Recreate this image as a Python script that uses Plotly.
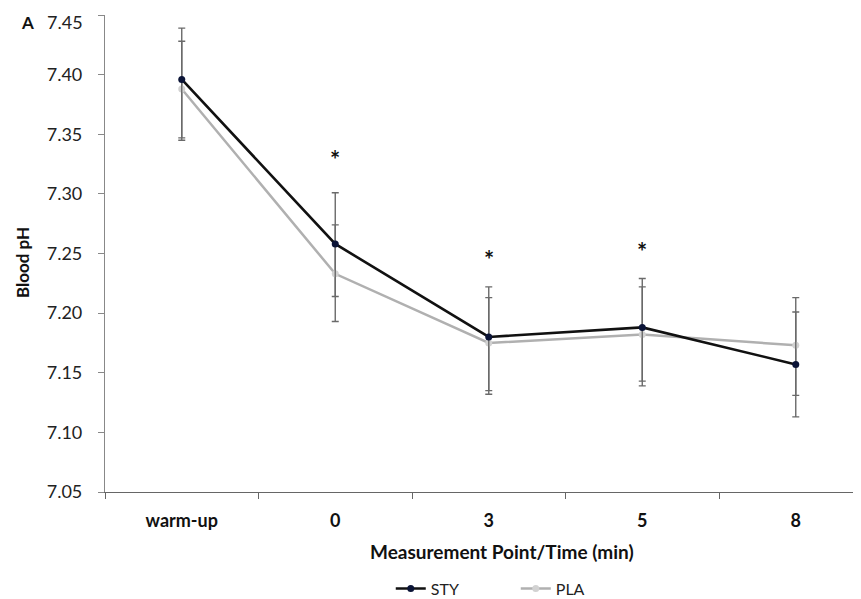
import plotly.graph_objects as go

categories = ["warm-up", "0", "3", "5", "8"]
sty_mean = [7.396, 7.258, 7.180, 7.188, 7.157]
sty_err_plus = [0.043, 0.043, 0.042, 0.041, 0.044]
sty_err_minus = [0.049, 0.044, 0.048, 0.049, 0.044]
pla_mean = [7.388, 7.233, 7.175, 7.182, 7.173]
pla_err_plus = [0.040, 0.041, 0.038, 0.040, 0.040]
pla_err_minus = [0.043, 0.040, 0.040, 0.039, 0.042]
sig_categories = ["0", "3", "5"]
sig_y = [7.333, 7.249, 7.256]
y_ticks = [7.05, 7.10, 7.15, 7.20, 7.25, 7.30, 7.35, 7.40, 7.45]
y_ticktext = ["7.05", "7.10", "7.15", "7.20", "7.25", "7.30", "7.35", "7.40", "7.45"]

FONT = "Lato"
fig = go.Figure()

fig.add_trace(go.Scatter(
    x=categories, y=pla_mean, name="PLA", mode="lines+markers",
    line=dict(color="#b0b0b0", width=2.5),
    marker=dict(color="#d2d2d2", size=7),
    error_y=dict(type="data", symmetric=False, array=pla_err_plus,
                 arrayminus=pla_err_minus, color="#6a6a6a", thickness=1.4, width=3.5),
))
fig.add_trace(go.Scatter(
    x=categories, y=sty_mean, name="STY", mode="lines+markers",
    line=dict(color="#111111", width=2.6),
    marker=dict(color="#0b1437", size=7),
    error_y=dict(type="data", symmetric=False, array=sty_err_plus,
                 arrayminus=sty_err_minus, color="#6a6a6a", thickness=1.4, width=3.5),
))

for c, v in zip(sig_categories, sig_y):
    fig.add_annotation(x=categories.index(c), y=v, xref="x", yref="y", text="<b>*</b>",
                       xanchor="center", yanchor="middle", yshift=-5,
                       showarrow=False, font=dict(family=FONT, size=24, color="#111"))

# top tick label sits slightly below its tick in the reference (kept inside the page)
shown_text = y_ticktext[:-1] + [""]
fig.add_annotation(xref="paper", yref="y", x=0, y=y_ticks[-1], text=y_ticktext[-1],
                   xanchor="right", yanchor="middle", xshift=-20, yshift=-7,
                   showarrow=False, font=dict(family=FONT, size=18, color="#222"))

fig.add_annotation(xref="paper", yref="paper", x=-0.1019, y=0.984, text="<b>A</b>",
                   xanchor="center", yanchor="middle",
                   showarrow=False, font=dict(family=FONT, size=17, color="#111"))
fig.add_annotation(xref="paper", yref="paper", x=-0.1098, y=0.482, text="<b>Blood pH</b>",
                   xanchor="center", yanchor="middle",
                   textangle=-90, showarrow=False, font=dict(family=FONT, size=17, color="#111"))
fig.add_annotation(xref="paper", yref="paper", x=0.525, y=-0.124,
                   xanchor="center", yanchor="middle",
                   text="<b>Measurement Point/Time (min)</b>",
                   showarrow=False, font=dict(family=FONT, size=19, color="#111"))

fig.update_layout(
    width=853, height=640,
    margin=dict(l=97, r=0, t=7, b=156, autoexpand=False),
    paper_bgcolor="white", plot_bgcolor="white",
    font=dict(family=FONT, size=14, color="#222"),
    showlegend=True,
    legend=dict(orientation="h", x=0.378, y=-0.2026, xanchor="left", yanchor="middle",
                traceorder="reversed", entrywidth=80, entrywidthmode="pixels",
                font=dict(family=FONT, size=16, color="#222")),
    xaxis=dict(type="category", categoryorder="array", categoryarray=categories,
               range=[-0.5, 4.425], showline=True, linecolor="#666", linewidth=1.2,
               ticks="outside", tickson="boundaries", ticklen=6, tickcolor="#666",
               showgrid=False, zeroline=False, ticklabelstandoff=12, automargin=False,
               tickfont=dict(family=FONT, size=18, color="#111", weight="bold")),
    yaxis=dict(range=[7.05, 7.45], tickvals=y_ticks, ticktext=shown_text,
               showline=True, linecolor="#888", linewidth=1.2, ticks="outside",
               ticklen=6, tickcolor="#888", showgrid=False, zeroline=False,
               ticklabelstandoff=12, ticklabeloverflow="allow", automargin=False,
               tickfont=dict(family=FONT, size=18, color="#222")),
)

fig.write_html("out.html")
